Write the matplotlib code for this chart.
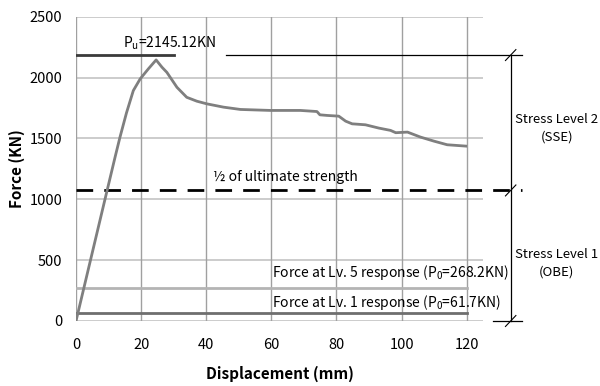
import matplotlib
matplotlib.use("Agg")
import matplotlib.pyplot as plt

plt.rcParams['font.family'] = ['Noto Sans CJK KR', 'DejaVu Sans']
plt.rcParams['mathtext.fontset'] = 'custom'
plt.rcParams['mathtext.rm'] = 'Noto Sans CJK KR'

# load-displacement curve
disp = [0, 4, 8.9, 12, 13.5, 15.5, 17.6, 19.7, 22.2, 24.6, 26.4, 27.9, 31, 34,
        37.1, 40.2, 45.3, 50.5, 59.7, 68.9, 74, 74.9, 77.1, 80.7, 82.8, 84.8,
        88.9, 93, 96.6, 98.2, 101.8, 105.8, 109.9, 114, 119.7]
force = [0, 450, 1000, 1347, 1510, 1710, 1893, 1989, 2071, 2145, 2085, 2043,
         1920, 1838, 1806, 1784, 1757, 1738, 1730, 1730, 1721, 1694, 1689,
         1683, 1642, 1620, 1612, 1585, 1566, 1547, 1552, 1511, 1478, 1448, 1437]

p_ultimate = 2145.12
p_lv5 = 268.2
p_lv1 = 61.7
top_ref = 2185

xticks = [0, 20, 40, 60, 80, 100, 120]
yticks = [0, 500, 1000, 1500, 2000, 2500]

fig = plt.figure(figsize=(6, 3.86), dpi=100)
ax = fig.add_axes([0.1267, 0.1684, 0.6783, 0.7883])

# grid
for y in yticks:
    ax.plot([0, 125], [y, y], color='#c4c4c4', lw=1.2, zorder=1)
for x in xticks:
    ax.plot([x, x], [0, 2500], color='#a0a0a0', lw=1.0, zorder=1)

ax.plot(disp, force, color='#7f7f7f', lw=2, zorder=4, solid_joinstyle='round')

ax.plot([0, 120], [p_lv5, p_lv5], color='#b4b4b4', lw=2, zorder=3)
ax.plot([0, 120], [p_lv1, p_lv1], color='#6e6e6e', lw=2, zorder=3)
ax.plot([0, 137], [p_ultimate / 2] * 2, color='black', lw=2,
        dashes=(6, 4), zorder=3, clip_on=False)
ax.plot([0, 30], [top_ref, top_ref], color='#3a3a3a', lw=2, zorder=3)
ax.plot([46, 137], [top_ref, top_ref], color='black', lw=0.9, zorder=3,
        clip_on=False)
ax.plot([128.2, 137], [0, 0], color='black', lw=0.9, clip_on=False)

# dimension line on the right
xd = 133.5
ax.plot([xd, xd], [0, top_ref], color='black', lw=0.9, clip_on=False)
for y in [0, p_ultimate / 2, top_ref]:
    ax.plot([xd - 1.6, xd + 1.6], [y - 45, y + 45], color='black', lw=0.8,
            clip_on=False)

ax.text(147.6, 1582, 'Stress Level 2\n(SSE)', ha='center', va='center',
        fontsize=9.5, linespacing=1.4)
ax.text(147.6, 475, 'Stress Level 1\n(OBE)', ha='center', va='center',
        fontsize=9.5, linespacing=1.4)

ax.text(14.4, 2279, r'P$_\mathregular{u}$=2145.12KN', ha='left', va='center',
        fontsize=10)
ax.text(42.2, 1180, '½ of ultimate strength', ha='left', va='center',
        fontsize=10)
ax.text(60.3, 402, r'Force at Lv. 5 response (P$_\mathregular{0}$=268.2KN)',
        ha='left', va='center', fontsize=10)
ax.text(60.3, 148, r'Force at Lv. 1 response (P$_\mathregular{0}$=61.7KN)',
        ha='left', va='center', fontsize=10)

ax.set_xlim(0, 125)
ax.set_ylim(0, 2500)
ax.set_xticks(xticks)
ax.set_yticks(yticks)
ax.tick_params(length=0, labelsize=10.5, pad=12)
ax.tick_params(axis='y', pad=10)
for s in ax.spines.values():
    s.set_visible(False)

ax.set_xlabel('Displacement (mm)', fontsize=11, fontweight='bold', labelpad=10)
ax.set_ylabel('Force (KN)', fontsize=11, fontweight='bold', labelpad=3)

fig.savefig('out.png', dpi=100)
